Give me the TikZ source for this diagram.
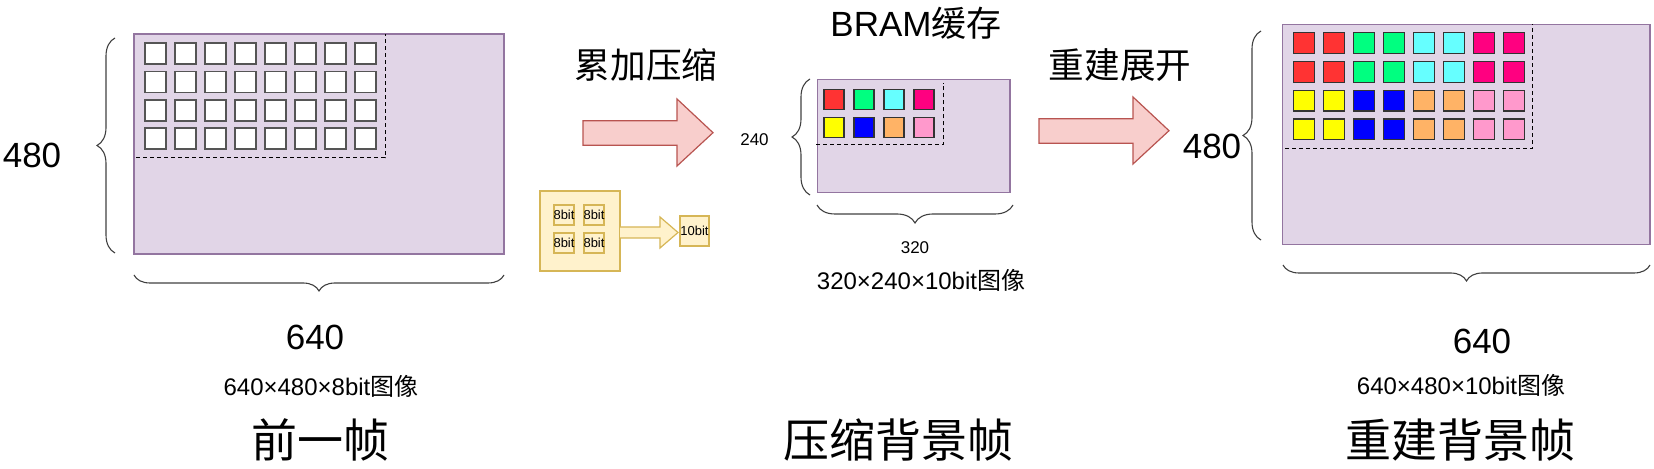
\documentclass[tikz,border=0pt]{standalone}
\usepackage{fontspec}
\setmainfont{Liberation Sans}
\newfontfamily\cjk{Noto Sans CJK SC}
\usetikzlibrary{decorations.pathreplacing}

\definecolor{framefill}{HTML}{E1D5E7}
\definecolor{framedraw}{HTML}{9673A6}
\definecolor{arrowfill}{HTML}{F8CECC}
\definecolor{arrowdraw}{HTML}{B85450}
\definecolor{notefill}{HTML}{FFF2CC}
\definecolor{notedraw}{HTML}{D6B656}
\definecolor{cellline}{HTML}{555555}
\definecolor{cred}{HTML}{FF3333}
\definecolor{cgreen}{HTML}{00FF80}
\definecolor{ccyan}{HTML}{66FFFF}
\definecolor{cmag}{HTML}{FF0080}
\definecolor{cyellow}{HTML}{FFFF00}
\definecolor{cblue}{HTML}{0000FF}
\definecolor{corange}{HTML}{FFB366}
\definecolor{cpink}{HTML}{FF99CC}

\begin{document}
\begin{tikzpicture}[x=0.5bp,y=-0.5bp,
    frame/.style={draw=framedraw!85!gray, fill=framefill, line width=0.7bp},
    cell/.style={draw=cellline, fill=white, line width=0.9bp, minimum size=10.5bp,
        inner sep=0pt, anchor=north west},
    ccell/.style={draw=black!80, line width=0.6bp, minimum size=#1,
        inner sep=0pt, anchor=north west},
    ccell/.default=10bp,
    region/.style={dash pattern=on 2bp off 1.5bp, line width=0.5bp},
    curly/.style={decorate, decoration={brace, amplitude=#1}, draw=black!75,
        line width=0.55bp},
    curly/.default=9bp,
    bigarrow/.style={draw=arrowdraw, fill=arrowfill, line width=0.6bp},
    note/.style={draw=notedraw, fill=notefill, line width=0.6bp},
    dimtext/.style={font=\fontsize{17.5bp}{20bp}\selectfont},
    smalltext/.style={font=\fontsize{8.5bp}{10bp}\selectfont},
    infotext/.style={font=\fontsize{12bp}{14bp}\selectfont},
    steptext/.style={font=\cjk\fontsize{17.8bp}{20bp}\selectfont},
    titletext/.style={font=\cjk\fontsize{23bp}{26bp}\selectfont},
    bittext/.style={font=\fontsize{6.5bp}{7bp}\selectfont, inner sep=0pt}]

    % key values (pixels)
    \def\colstep{30}
    \useasboundingbox (0,0) rectangle (1654,469);

    % previous frame
    \draw[frame] (134,34) rectangle (504,254);
    \foreach \i in {0,...,7}
        \foreach \j in {0,...,3}
            \node[cell] (pf-\i-\j) at ({144.3+\colstep*\i},{42.3+28.3*\j}) {};
    \draw[region] (136,157.7) -- (385,157.7) -- (385,34);
    % height and width braces
    \draw[curly] (115,253) -- (115,38);
    \draw[curly=8bp] (504,275) -- (134,275);
    \node[dimtext] (pfh) at (32,155) {480};
    \node[dimtext] (pfw) at (315,337) {640};
    \node[infotext] (pfinfo) at (321,386) {640×480×8bit{\cjk 图像}};
    \node[titletext] (pftitle) at (320,440) {前一帧};

    % accumulate and compress
    \draw[bigarrow] (583,120.7) -- (677,120.7) -- (677,99) -- (713,132.7)
        -- (677,166) -- (677,145.3) -- (583,145.3) -- cycle;
    \node[steptext] (acc) at (646,65) {累加压缩};

    % 4 x 8bit -> 10bit
    \draw[note] (540,191) rectangle (620,271);
    \foreach \i/\j in {0/0,1/0,0/1,1/1} {
        \draw[note] ({554+30*\i},{205+28*\j}) rectangle ++(20,20);
        \node[bittext] (b-\i-\j) at ({564+30*\i},{215+28*\j}) {8bit};
    }
    \draw[note] (620,227) -- (660,227) -- (660,217) -- (678,232.5)
        -- (660,248) -- (660,238) -- (620,238);
    \draw[note] (680,216) rectangle (709,246);
    \node[bittext] (b10) at (694.5,231) {10bit};

    % compressed background frame (BRAM)
    \draw[frame] (817.7,79.3) rectangle (1010,192.7);
    \foreach \c/\col in {0/cred,1/cgreen,2/ccyan,3/cmag}
        \node[ccell, fill=\col] (bt-\c) at ({823.3+\colstep*\c},89.3) {};
    \foreach \c/\col in {0/cyellow,1/cblue,2/corange,3/cpink}
        \node[ccell, fill=\col] (bb-\c) at ({823.3+\colstep*\c},117.3) {};
    \draw[region] (816,145) -- (943.3,145) -- (943.3,82.7);
    \draw[curly] (810,195) -- (810,79);
    \draw[curly] (1013,205) -- (817,205);
    \node[smalltext] (bh) at (754.5,140) {240};
    \node[smalltext] (bw) at (915,248) {320};
    \node[font=\fontsize{17.5bp}{20bp}\selectfont] (bram) at (916,23) {BRAM{\cjk 缓存}};
    \node[infotext] (binfo) at (921,280) {320×240×10bit{\cjk 图像}};
    \node[titletext] (btitle) at (898,440) {压缩背景帧};

    % rebuild and expand
    \draw[bigarrow] (1039,118.7) -- (1133,118.7) -- (1133,97) -- (1169,130.7)
        -- (1133,164) -- (1133,143.3) -- (1039,143.3) -- cycle;
    \node[steptext] (reb) at (1120,65) {重建展开};

    % rebuilt background frame
    \draw[frame] (1282.7,24.3) rectangle (1650,244.3);
    \foreach \c/\col in {0/cred,1/cgreen,2/ccyan,3/cmag}
        \foreach \k in {0,1}
            \foreach \r in {0,1}
                \node[ccell=10.4bp, fill=\col] (rt-\c-\k-\r)
                    at ({1292.7+\colstep*(2*\c+\k)},{32.3+28.7*\r}) {};
    \foreach \c/\col in {0/cyellow,1/cblue,2/corange,3/cpink}
        \foreach \k in {0,1}
            \foreach \r in {2,3}
                \node[ccell=10.4bp, fill=\col] (rb-\c-\k-\r)
                    at ({1292.7+\colstep*(2*\c+\k)},{32.3+28.7*\r}) {};
    \draw[region] (1285,148.3) -- (1532.7,148.3) -- (1532.7,24.3);
    \draw[curly] (1261,240) -- (1261,31);
    \draw[curly=8bp] (1650,265) -- (1283,265);
    \node[dimtext] (rh) at (1212,146) {480};
    \node[dimtext] (rw) at (1482,341) {640};
    \node[infotext] (rinfo) at (1461,385) {640×480×10bit{\cjk 图像}};
    \node[titletext] (rtitle) at (1460,440) {重建背景帧};

\end{tikzpicture}
\end{document}
